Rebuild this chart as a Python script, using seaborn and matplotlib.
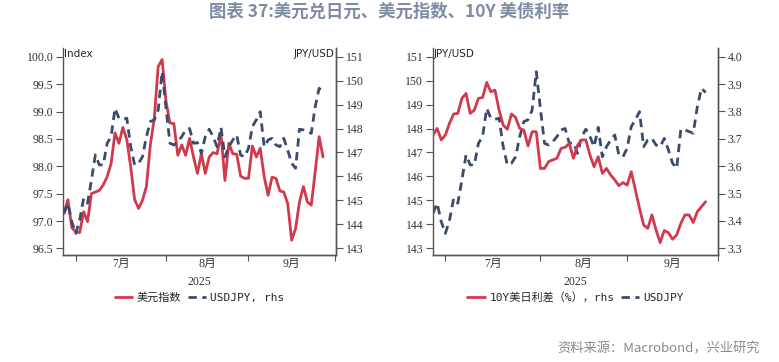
import numpy as np
import pandas as pd
import seaborn as sns
import matplotlib.pyplot as plt

# business days, 2025-06-26 .. 2025-09-26
dates = pd.bdate_range("2025-06-26", "2025-09-26")

dxy = [97.14, 97.39, 96.88, 96.80, 96.79, 97.17, 96.99, 97.50, 97.53, 97.56,
       97.66, 97.81, 98.05, 98.61, 98.42, 98.71, 98.49, 97.99, 97.39, 97.23,
       97.38, 97.63, 98.39, 98.87, 99.82, 99.95, 99.18, 98.79, 98.78, 98.20,
       98.39, 98.20, 98.51, 98.17, 97.87, 98.23, 97.87, 98.17, 98.25, 98.23,
       98.59, 97.74, 98.42, 98.23, 98.22, 97.82, 97.78, 97.78, 98.37, 98.17,
       98.33, 97.81, 97.47, 97.80, 97.78, 97.55, 97.53, 97.32, 96.65, 96.86,
       97.35, 97.63, 97.35, 97.29, 97.90, 98.54, 98.17]

usdjpy = [144.46, 144.88, 144.11, 143.62, 144.18, 145.08, 144.88, 145.85, 146.90, 146.48,
          146.48, 147.38, 147.66, 148.84, 148.43, 148.38, 148.43, 147.24, 146.48, 146.55,
          146.82, 147.66, 148.29, 148.36, 148.77, 150.37, 148.84, 147.38, 147.31, 147.45,
          147.66, 147.94, 148.00, 147.38, 147.41, 146.96, 147.66, 147.97, 147.66, 147.24,
          148.05, 146.82, 147.24, 147.52, 147.73, 146.89, 146.82, 147.17, 148.08, 148.36,
          148.70, 147.24, 147.52, 147.59, 147.31, 147.24, 147.59, 147.10, 146.55, 146.34,
          147.97, 147.94, 147.87, 147.80, 148.91, 149.68, 149.50]

spread = [3.714, 3.738, 3.696, 3.714, 3.757, 3.791, 3.793, 3.848, 3.866, 3.793,
          3.805, 3.848, 3.851, 3.906, 3.872, 3.878, 3.805, 3.750, 3.735, 3.791,
          3.778, 3.738, 3.732, 3.674, 3.726, 3.726, 3.592, 3.592, 3.617, 3.623,
          3.629, 3.665, 3.669, 3.683, 3.629, 3.677, 3.696, 3.696, 3.641, 3.598,
          3.635, 3.574, 3.592, 3.568, 3.550, 3.529, 3.540, 3.531, 3.580, 3.513,
          3.446, 3.385, 3.373, 3.422, 3.367, 3.321, 3.365, 3.357, 3.333, 3.349,
          3.391, 3.422, 3.422, 3.394, 3.434, 3.452, 3.470]

month_labels = ["7月", "8月", "9月"]
month_starts = ["2025-07-01", "2025-08-01", "2025-09-01", "2025-10-01"]

df = pd.DataFrame({"pos": np.arange(len(dates)), "dxy": dxy,
                   "usdjpy": usdjpy, "spread": spread})

sns.set_style("white")
plt.rcParams["font.family"] = ["Liberation Serif", "Noto Sans CJK SC"]

RED = "#d03a4c"
NAVY = "#3c4b6c"
SPINE = "#555555"

all_days = pd.bdate_range("2025-06-26", "2025-10-01")
ticks = [all_days.get_loc(pd.Timestamp(d)) for d in month_starts]
mids = [(ticks[k] + ticks[k + 1]) / 2 for k in range(3)]

fig = plt.figure(figsize=(7.79, 3.62), dpi=100)
W, H = 779, 362


def add_axes(x0, x1, y0=48, y1=255):
    return fig.add_axes([x0 / W, 1 - y1 / H, (x1 - x0) / W, (y1 - y0) / H])


def style_x(ax, xlim):
    ax.set_xlim(*xlim)
    ax.set_xticks(ticks)
    ax.set_xticklabels([""] * len(ticks))
    ax.set_xticks(mids, minor=True)
    ax.set_xticklabels(month_labels, minor=True, fontsize=8.5, color="#333333")
    ax.tick_params(axis="x", which="major", length=4, direction="out", color=SPINE, bottom=True)
    ax.tick_params(axis="x", which="minor", length=0, pad=2)
    ax.set_xlabel("")
    ax.text(0.5, -0.13, "2025", transform=ax.transAxes, ha="center", va="center",
            fontsize=8.5, color="#333333")


def style_y(ax, side):
    ax.tick_params(axis="y", length=5, direction="out", color=SPINE,
                   labelsize=8.5, labelcolor="#333333", pad=2,
                   left=(side == "left"), right=(side == "right"),
                   labelleft=(side == "left"), labelright=(side == "right"))
    ax.set_ylabel("")
    for s in ["left", "right", "bottom"]:
        ax.spines[s].set_color(SPINE)
        ax.spines[s].set_linewidth(1.0)
    ax.spines["top"].set_visible(False)


# ---- left chart: dollar index vs USDJPY
ax1 = add_axes(63, 336)
sns.lineplot(data=df, x="pos", y="dxy", ax=ax1, color=RED, linewidth=2.0)
ax1.set_ylim(96.38, 100.16)
ax1.set_yticks(np.arange(96.5, 100.01, 0.5))
ax1.set_yticklabels([f"{v:.1f}" for v in np.arange(96.5, 100.01, 0.5)])
ax1b = ax1.twinx()
sns.lineplot(data=df, x="pos", y="usdjpy", ax=ax1b, color=NAVY, linewidth=2.0)
ax1b.lines[0].set_linestyle((0, (3, 2)))
ax1b.set_ylim(142.72, 151.36)
ax1b.set_yticks(range(143, 152))
style_x(ax1, (-0.25, 69.3))
style_y(ax1, "left")
style_y(ax1b, "right")
ax1b.spines["left"].set_visible(False)
ax1.text(0.005, 0.97, "Index", transform=ax1.transAxes, ha="left", va="center",
         fontsize=7.5, family="DejaVu Sans")
ax1.text(0.995, 0.97, "JPY/USD", transform=ax1.transAxes, ha="right", va="center",
         fontsize=7.5, family="DejaVu Sans")
ax1.legend([ax1.lines[0], ax1b.lines[0]], ["美元指数", "USDJPY, rhs"],
           loc="center", bbox_to_anchor=(0.5, -0.205), ncol=2, frameon=False,
           handlelength=1.6, columnspacing=0.6, handletextpad=0.4,
           prop={"family": ["DejaVu Sans Mono", "Noto Sans CJK SC"], "size": 8})

# ---- right chart: USDJPY vs 10Y spread
ax2 = add_axes(433, 718)
sns.lineplot(data=df, x="pos", y="usdjpy", ax=ax2, color=NAVY, linewidth=2.0)
ax2.lines[0].set_linestyle((0, (3, 2)))
ax2.set_ylim(142.72, 151.36)
ax2.set_yticks(range(143, 152))
ax2b = ax2.twinx()
sns.lineplot(data=df, x="pos", y="spread", ax=ax2b, color=RED, linewidth=2.0)
ax2b.set_ylim(3.2755, 4.032)
ax2b.set_yticks(np.arange(3.3, 4.01, 0.1))
ax2b.set_yticklabels([f"{v:.1f}" for v in np.arange(3.3, 4.01, 0.1)])
style_x(ax2, (0, 69))
style_y(ax2, "left")
style_y(ax2b, "right")
ax2b.spines["left"].set_visible(False)
ax2.text(0.003, 0.97, "JPY/USD", transform=ax2.transAxes, ha="left", va="center",
         fontsize=7.5, family="DejaVu Sans")
ax2.legend([ax2b.lines[0], ax2.lines[0]], ["10Y美日利差（%），rhs", "USDJPY"],
           loc="center", bbox_to_anchor=(0.5, -0.205), ncol=2, frameon=False,
           handlelength=1.6, columnspacing=0.6, handletextpad=0.4,
           prop={"family": ["DejaVu Sans Mono", "Noto Sans CJK SC"], "size": 8})

fig.text(0.5, 1 - 12 / H, "图表 37:美元兑日元、美元指数、10Y 美债利率", ha="center", va="center",
         fontsize=12.5, fontweight="bold", color="#7d8ba3",
         family=["Noto Sans CJK SC", "DejaVu Sans"])
fig.text(760 / W, 1 - 349 / H, "资料来源：Macrobond，兴业研究", ha="right", va="center",
         fontsize=9.5, color="#8a8a8a", family=["Noto Sans CJK SC", "DejaVu Sans"])

fig.savefig("out.png", dpi=100)
